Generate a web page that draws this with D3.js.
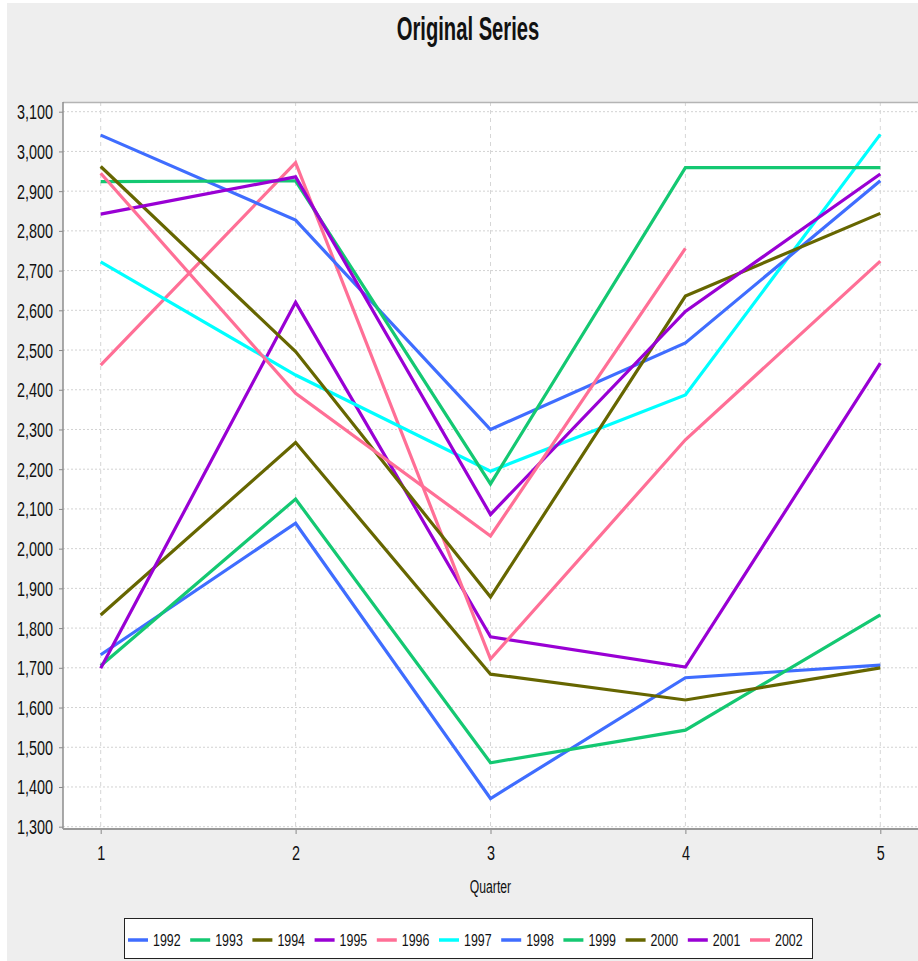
<!DOCTYPE html>
<html>
<head>
<meta charset="utf-8">
<script src="https://cdn.jsdelivr.net/npm/d3@7"></script>
<style>
  html, body { margin: 0; padding: 0; background: #ffffff; }
  svg { display: block; }
  text { font-family: "Liberation Sans", Arial, sans-serif; fill: #111; }
</style>
</head>
<body>
<svg id="chart" width="918" height="961"></svg>
<script>
// ---------- data ----------
const title = "Original Series";
const xLabel = "Quarter";
const quarters = [1, 2, 3, 4, 5];
const years = ["1992","1993","1994","1995","1996","1997","1998","1999","2000","2001","2002"];
const s1992 = [1733, 2064, 1371, 1675, 1707];
const s1993 = [1705, 2125, 1461, 1543, 1833];
const s1994 = [1833, 2267, 1684, 1619, 1700];
const s1995 = [1699, 2620, 1778, 1702, 2467];
const s1996 = [2462, 2972, 1722, 2274, 2724];
const s1997 = [2722, 2437, 2195, 2387, 3043];
const s1998 = [3041, 2827, 2300, 2518, 2926];
const s1999 = [2924, 2926, 2163, 2959, 2959];
const s2000 = [2962, 2496, 1878, 2636, 2844];
const s2001 = [2842, 2936, 2086, 2597, 2943];
const s2002 = [2945, 2391, 2032, 2756, null];
const seriesValues = [s1992, s1993, s1994, s1995, s1996, s1997, s1998, s1999, s2000, s2001, s2002];
const yTicks = [1300,1400,1500,1600,1700,1800,1900,2000,2100,2200,2300,2400,2500,2600,2700,2800,2900,3000,3100];
const palette = ["#3f6dff", "#14c872", "#666600", "#9900d4", "#ff6f96", "#00ffff"];

// ---------- layout ----------
const svg = d3.select("#chart");
const plot = { left: 63, right: 918, top: 102, bottom: 829 };

svg.append("rect").attr("x", 7).attr("y", 3).attr("width", 911).attr("height", 958).attr("fill", "#eeeeee");
svg.append("rect").attr("x", plot.left).attr("y", plot.top)
  .attr("width", plot.right - plot.left).attr("height", plot.bottom - plot.top).attr("fill", "#ffffff");

const x = d3.scaleLinear().domain([1, 5]).range([100.7, 880.3]);
const y = d3.scaleLinear().domain([1300, 3100]).range([826.7, 111.7]);

function txt(parent, tx, ty, s, size, sy, anchor, weight) {
  return parent.append("text")
    .attr("transform", `translate(${tx},${ty}) scale(1,${sy})`)
    .attr("font-size", size)
    .attr("text-anchor", anchor || "start")
    .attr("font-weight", weight || "normal")
    .text(s);
}

// gridlines
svg.append("g").selectAll("line").data(yTicks).join("line")
  .attr("x1", plot.left).attr("x2", plot.right)
  .attr("y1", d => y(d)).attr("y2", d => y(d))
  .attr("stroke", "#d2d2d2").attr("stroke-width", 1).attr("stroke-dasharray", "2,2");
svg.append("g").selectAll("line").data(quarters).join("line")
  .attr("x1", d => x(d)).attr("x2", d => x(d))
  .attr("y1", plot.top).attr("y2", plot.bottom)
  .attr("stroke", "#d6d6d6").attr("stroke-width", 1).attr("stroke-dasharray", "4,4");

// top border
svg.append("line").attr("x1", plot.left).attr("x2", plot.right).attr("y1", plot.top + 0.5).attr("y2", plot.top + 0.5)
  .attr("stroke", "#b4b4b4").attr("stroke-width", 1.5);

// lines
const line = d3.line()
  .defined(d => d.v != null)
  .x(d => x(d.q)).y(d => y(d.v));
const linesG = svg.append("g");
seriesValues.forEach((vals, i) => {
  linesG.append("path")
    .datum(vals.map((v, j) => ({ q: quarters[j], v })))
    .attr("d", line)
    .attr("fill", "none")
    .attr("stroke", palette[i % palette.length])
    .attr("stroke-width", 3.2)
    .attr("stroke-linejoin", "miter");
});

// y axis
const yAxis = svg.append("g").attr("transform", `translate(${plot.left},0)`)
  .call(d3.axisLeft(y).tickValues(yTicks).tickFormat(d3.format(",")).tickSize(4).tickSizeOuter(0));
yAxis.select(".domain").remove();
yAxis.selectAll(".tick line").attr("stroke", "#888");
yAxis.selectAll(".tick text")
  .attr("x", null).attr("dy", null)
  .attr("transform", "translate(-10,7) scale(1,1.38)")
  .attr("font-size", 14.4).attr("fill", "#111")
  .attr("font-family", "'Liberation Sans', Arial, sans-serif");
svg.append("line").attr("x1", plot.left).attr("x2", plot.left).attr("y1", plot.top).attr("y2", plot.bottom)
  .attr("stroke", "#8c8c8c").attr("stroke-width", 1.5);

// x axis
const xAxis = svg.append("g").attr("transform", `translate(0,${plot.bottom})`)
  .call(d3.axisBottom(x).tickValues(quarters).tickFormat(d3.format("d")).tickSize(5).tickSizeOuter(0));
xAxis.select(".domain").remove();
xAxis.selectAll(".tick line").attr("stroke", "#888");
xAxis.selectAll(".tick text")
  .attr("y", null).attr("dy", null)
  .attr("transform", "translate(0,31) scale(1,1.38)")
  .attr("font-size", 14.4).attr("fill", "#111")
  .attr("font-family", "'Liberation Sans', Arial, sans-serif");
svg.append("line").attr("x1", plot.left).attr("x2", plot.right).attr("y1", plot.bottom).attr("y2", plot.bottom)
  .attr("stroke", "#999").attr("stroke-width", 2);

// axis label
txt(svg, (plot.left + plot.right) / 2, 893, xLabel, 12.2, 1.45, "middle");

// title
txt(svg, 468, 39.5, title, 20.2, 1.6, "middle", "bold");

// legend
const lg = svg.append("g");
lg.append("rect").attr("x", 124.5).attr("y", 918.5).attr("width", 688).attr("height", 40)
  .attr("fill", "#ffffff").attr("stroke", "#222").attr("stroke-width", 1);
years.forEach((yr, i) => {
  const lx = 128 + i * 62.2;
  lg.append("line").attr("x1", lx).attr("x2", lx + 20).attr("y1", 940).attr("y2", 940)
    .attr("stroke", palette[i % palette.length]).attr("stroke-width", 3.5);
  txt(lg, lx + 25, 945.7, yr, 12.4, 1.4, "start");
});
</script>
</body>
</html>
